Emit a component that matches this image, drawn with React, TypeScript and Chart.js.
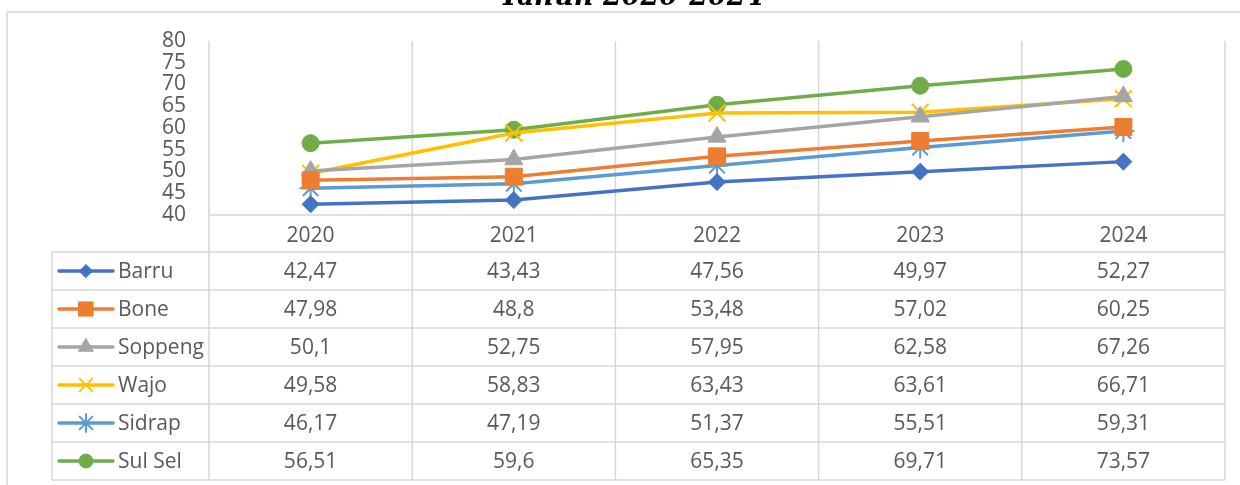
import React, { useEffect, useRef } from 'react';
import { Chart, registerables } from 'chart.js';
import { drawPoint } from 'chart.js/helpers';

Chart.register(...registerables);

// ---------- data ----------
const titleText = 'Tahun 2020-2024';
const years = ['2020', '2021', '2022', '2023', '2024'];
const seriesNames = ['Barru', 'Bone', 'Soppeng', 'Wajo', 'Sidrap', 'Sul Sel'];
const barru = [42.47, 43.43, 47.56, 49.97, 52.27];
const bone = [47.98, 48.8, 53.48, 57.02, 60.25];
const soppeng = [50.1, 52.75, 57.95, 62.58, 67.26];
const wajo = [49.58, 58.83, 63.43, 63.61, 66.71];
const sidrap = [46.17, 47.19, 51.37, 55.51, 59.31];
const sulSel = [56.51, 59.6, 65.35, 69.71, 73.57];
const yMin = 40;
const yMax = 80;
const yStep = 5;

// ---------- styles ----------
const seriesValues = [barru, bone, soppeng, wajo, sidrap, sulSel];
const colors = ['#4472C4', '#ED7D31', '#A5A5A5', '#FFC000', '#5B9BD5', '#70AD47'];
const pointStyles = ['rectRot', 'rect', 'triangle', 'crossRot', 'star', 'circle'];
const pointRadii = [8.5, 12, 10.5, 12, 11, 8.5];
const pointBorders = [1, 1, 1, 2, 2, 1];
const legendRadii = [6.5, 10, 8.5, 9, 9, 7];
const TEXT = '#595959';
const GRID = '#d6d6d6';
const FONT = '"Open Sans", "DejaVu Sans", sans-serif';
const FONT_SIZE = 21;

const W = 1240;
const H = 485;
const FRAME_X = 7;
const FRAME_Y = 12;
const TABLE_TOP = 252;
const ROW_H = 38;
const LEG_LEFT = 52;
const KEY_X0 = 59;
const KEY_X1 = 113;
const LABEL_X = 118;

const fmt = (v: number) => String(v).replace('.', ',');

const tablePlugin = {
  id: 'dataTable',
  beforeDatasetsDraw(chart: any) {
    const ctx = chart.ctx as CanvasRenderingContext2D;
    const { left, right, top, bottom } = chart.chartArea;
    const n = years.length;
    const cw = (right - left) / n;
    const tableBottom = TABLE_TOP + ROW_H * seriesNames.length;
    ctx.save();
    ctx.strokeStyle = GRID;
    ctx.lineWidth = 1.5;
    const line = (x1: number, y1: number, x2: number, y2: number) => {
      ctx.beginPath();
      ctx.moveTo(x1, y1);
      ctx.lineTo(x2, y2);
      ctx.stroke();
    };
    // outer frame
    line(FRAME_X, FRAME_Y, W, FRAME_Y);
    line(FRAME_X, FRAME_Y, FRAME_X, H);
    // category boundaries
    for (let i = 0; i <= n; i++) {
      const xx = left + i * cw;
      line(xx, top, xx, tableBottom);
    }
    // plot bottom
    line(left, bottom, right, bottom);
    // table rows
    for (let r = 0; r <= seriesNames.length; r++) {
      const y = TABLE_TOP + r * ROW_H;
      line(LEG_LEFT, y, right, y);
    }
    line(LEG_LEFT, TABLE_TOP, LEG_LEFT, tableBottom);
    ctx.restore();
  },
  afterDraw(chart: any) {
    const ctx = chart.ctx as CanvasRenderingContext2D;
    const xScale = chart.scales.x;
    ctx.save();
    // title (cut at top)
    ctx.fillStyle = '#000000';
    ctx.font = `italic bold 27px "DejaVu Serif", serif`;
    ctx.textAlign = 'center';
    ctx.textBaseline = 'alphabetic';
    ctx.fillText(titleText, 632, 5);

    ctx.font = `${FONT_SIZE}px ${FONT}`;
    ctx.textBaseline = 'middle';
    seriesNames.forEach((name, r) => {
      const cy = TABLE_TOP + r * ROW_H + ROW_H / 2;
      // legend key
      ctx.strokeStyle = colors[r];
      ctx.lineWidth = 3.5;
      ctx.lineCap = 'round';
      ctx.beginPath();
      ctx.moveTo(KEY_X0, cy);
      ctx.lineTo(KEY_X1, cy);
      ctx.stroke();
      ctx.fillStyle = colors[r];
      ctx.lineWidth = pointBorders[r];
      drawPoint(ctx, { pointStyle: pointStyles[r], radius: legendRadii[r], borderWidth: pointBorders[r], rotation: 0 } as any, (KEY_X0 + KEY_X1) / 2, cy);
      // label
      ctx.fillStyle = TEXT;
      ctx.textAlign = 'left';
      ctx.fillText(name, LABEL_X, cy + 1);
      // values
      ctx.textAlign = 'center';
      seriesValues[r].forEach((v, i) => {
        ctx.fillText(fmt(v), xScale.getPixelForValue(i), cy + 1);
      });
    });
    ctx.restore();
  },
};

export default function App() {
  const ref = useRef<HTMLCanvasElement | null>(null);
  useEffect(() => {
    if (!ref.current) return;
    const chart = new Chart(ref.current, {
      type: 'line',
      data: {
        labels: years,
        datasets: seriesNames.map((name, i) => ({
          label: name,
          data: seriesValues[i],
          borderColor: colors[i],
          backgroundColor: colors[i],
          borderWidth: 3.5,
          pointStyle: pointStyles[i] as any,
          pointRadius: pointRadii[i],
          pointBackgroundColor: colors[i],
          pointBorderColor: colors[i],
          pointBorderWidth: pointBorders[i],
          fill: false,
          tension: 0,
          clip: false as any,
        })),
      },
      options: {
        responsive: false,
        animation: false,
        devicePixelRatio: 1,
        layout: { padding: { top: 41, right: W - 1225, left: 0, bottom: 0 } },
        plugins: { legend: { display: false }, tooltip: { enabled: false }, title: { display: false } },
        scales: {
          x: {
            type: 'category',
            offset: true,
            grid: { display: false, drawTicks: false },
            border: { display: false },
            ticks: { color: TEXT, font: { family: FONT, size: FONT_SIZE }, padding: 8, maxRotation: 0, autoSkip: false },
            afterFit: (s: any) => { s.height = H - 215; },
          },
          y: {
            min: yMin,
            max: yMax,
            grid: { display: false, drawTicks: false },
            border: { display: false },
            ticks: { stepSize: yStep, color: TEXT, font: { family: FONT, size: FONT_SIZE }, padding: 23, autoSkip: false },
            afterFit: (s: any) => { s.width = 209; },
          },
        },
      },
      plugins: [tablePlugin],
    });
    return () => chart.destroy();
  }, []);
  return (
    <div style={{ position: 'fixed', left: 0, top: 0, width: W, height: H, background: '#fff' }}>
      <canvas ref={ref} width={W} height={H} style={{ display: 'block', width: W, height: H }} />
    </div>
  );
}
